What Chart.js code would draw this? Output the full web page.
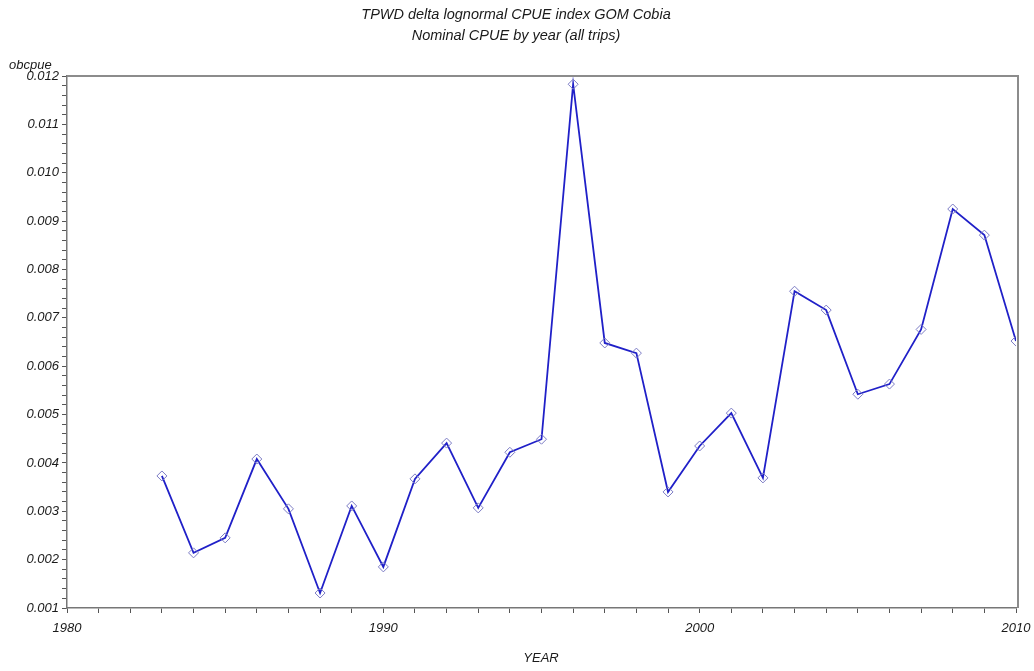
<!DOCTYPE html>
<html>
<head>
<meta charset="utf-8">
<script src="https://cdn.jsdelivr.net/npm/chart.js@4/dist/chart.umd.min.js"></script>
<style>
  html,body{margin:0;padding:0;background:#fff;}
  #wrap{width:1034px;height:671px;position:relative;}
</style>
</head>
<body>
<div id="wrap"><canvas id="c" width="1034" height="671"></canvas></div>
<script>
// values
const years = [1983,1984,1985,1986,1987,1988,1989,1990,1991,1992,1993,1994,1995,1996,
               1997,1998,1999,2000,2001,2002,2003,2004,2005,2006,2007,2008,2009,2010];
const obcpue = [0.00373,0.00214,0.00245,0.00408,0.00305,0.00131,0.00311,0.00185,0.00367,0.00441,
                0.00307,0.00422,0.00449,0.01183,0.00648,0.00627,0.00340,0.00435,0.00503,0.00369,
                0.00755,0.00716,0.00542,0.00563,0.00676,0.00925,0.00871,0.00652];
const titleLines = ['TPWD delta lognormal CPUE index GOM Cobia', 'Nominal CPUE by year (all trips)'];
const yLabel = 'obcpue';
const xLabel = 'YEAR';

const FONT = '"Liberation Sans", Arial, sans-serif';
const txt = '#1a1a1a';

const textPlugin = {
  id: 'texts',
  afterDraw(chart){
    const ctx = chart.ctx, a = chart.chartArea;
    ctx.save();
    // frame top/right
    ctx.strokeStyle = '#8c8c8c';
    ctx.lineWidth = 2;
    ctx.beginPath();
    ctx.moveTo(a.left, a.top); ctx.lineTo(a.right + 2, a.top); ctx.lineTo(a.right + 2, a.bottom);
    ctx.stroke();
    ctx.fillStyle = txt;
    ctx.font = 'italic 14.5px ' + FONT;
    ctx.textAlign = 'center';
    ctx.textBaseline = 'middle';
    ctx.fillText(titleLines[0], 516, 15);
    ctx.fillText(titleLines[1], 516, 36);
    ctx.font = 'italic 13px ' + FONT;
    ctx.fillText(xLabel, 541, 658);
    ctx.textAlign = 'left';
    ctx.fillText(yLabel, 9, 65);
    ctx.restore();
  }
};

new Chart(document.getElementById('c'), {
  type: 'line',
  data: {
    datasets: [{
      data: years.map((y,i)=>({x:y, y:obcpue[i]})),
      borderColor: '#2020c8',
      borderWidth: 1.8,
      tension: 0,
      fill: false,
      pointStyle: 'rectRot',
      pointRadius: 5,
      pointBorderColor: '#7b7bc4',
      pointBorderWidth: 1,
      pointBackgroundColor: 'rgba(255,255,255,0)'
    }]
  },
  options: {
    responsive: false,
    animation: false,
    layout: { padding: { top: 76, right: 18, left: 0, bottom: 0 } },
    plugins: { legend: {display:false}, tooltip: {enabled:false}, title: {display:false} },
    scales: {
      x: {
        type: 'linear', min: 1980, max: 2010,
        afterFit(s){ s.height = 63; s.paddingRight = 0; s.paddingLeft = 0; },
        border: { display:true, color:'#777', width:1.5 },
        grid: { drawOnChartArea:false, drawTicks:true, tickLength:5, tickColor:'#555' },
        ticks: {
          stepSize: 1, autoSkip: false, maxRotation: 0, padding: 8,
          color: txt, font: { family: FONT, size: 13, style: 'italic' },
          callback: v => (v % 10 === 0 ? String(v) : '')
        }
      },
      y: {
        min: 0.001, max: 0.012,
        afterFit(s){ s.width = 67; },
        border: { display:true, color:'#777', width:1.5 },
        grid: { drawOnChartArea:false, drawTicks:true, tickLength:5, tickColor:'#555' },
        ticks: {
          stepSize: 0.0002, autoSkip: false, padding: 3,
          color: txt, font: { family: FONT, size: 13, style: 'italic' },
          callback: v => (Math.round(v*10000) % 10 === 0 ? v.toFixed(3) : '')
        }
      }
    }
  },
  plugins: [textPlugin]
});
</script>
</body>
</html>
